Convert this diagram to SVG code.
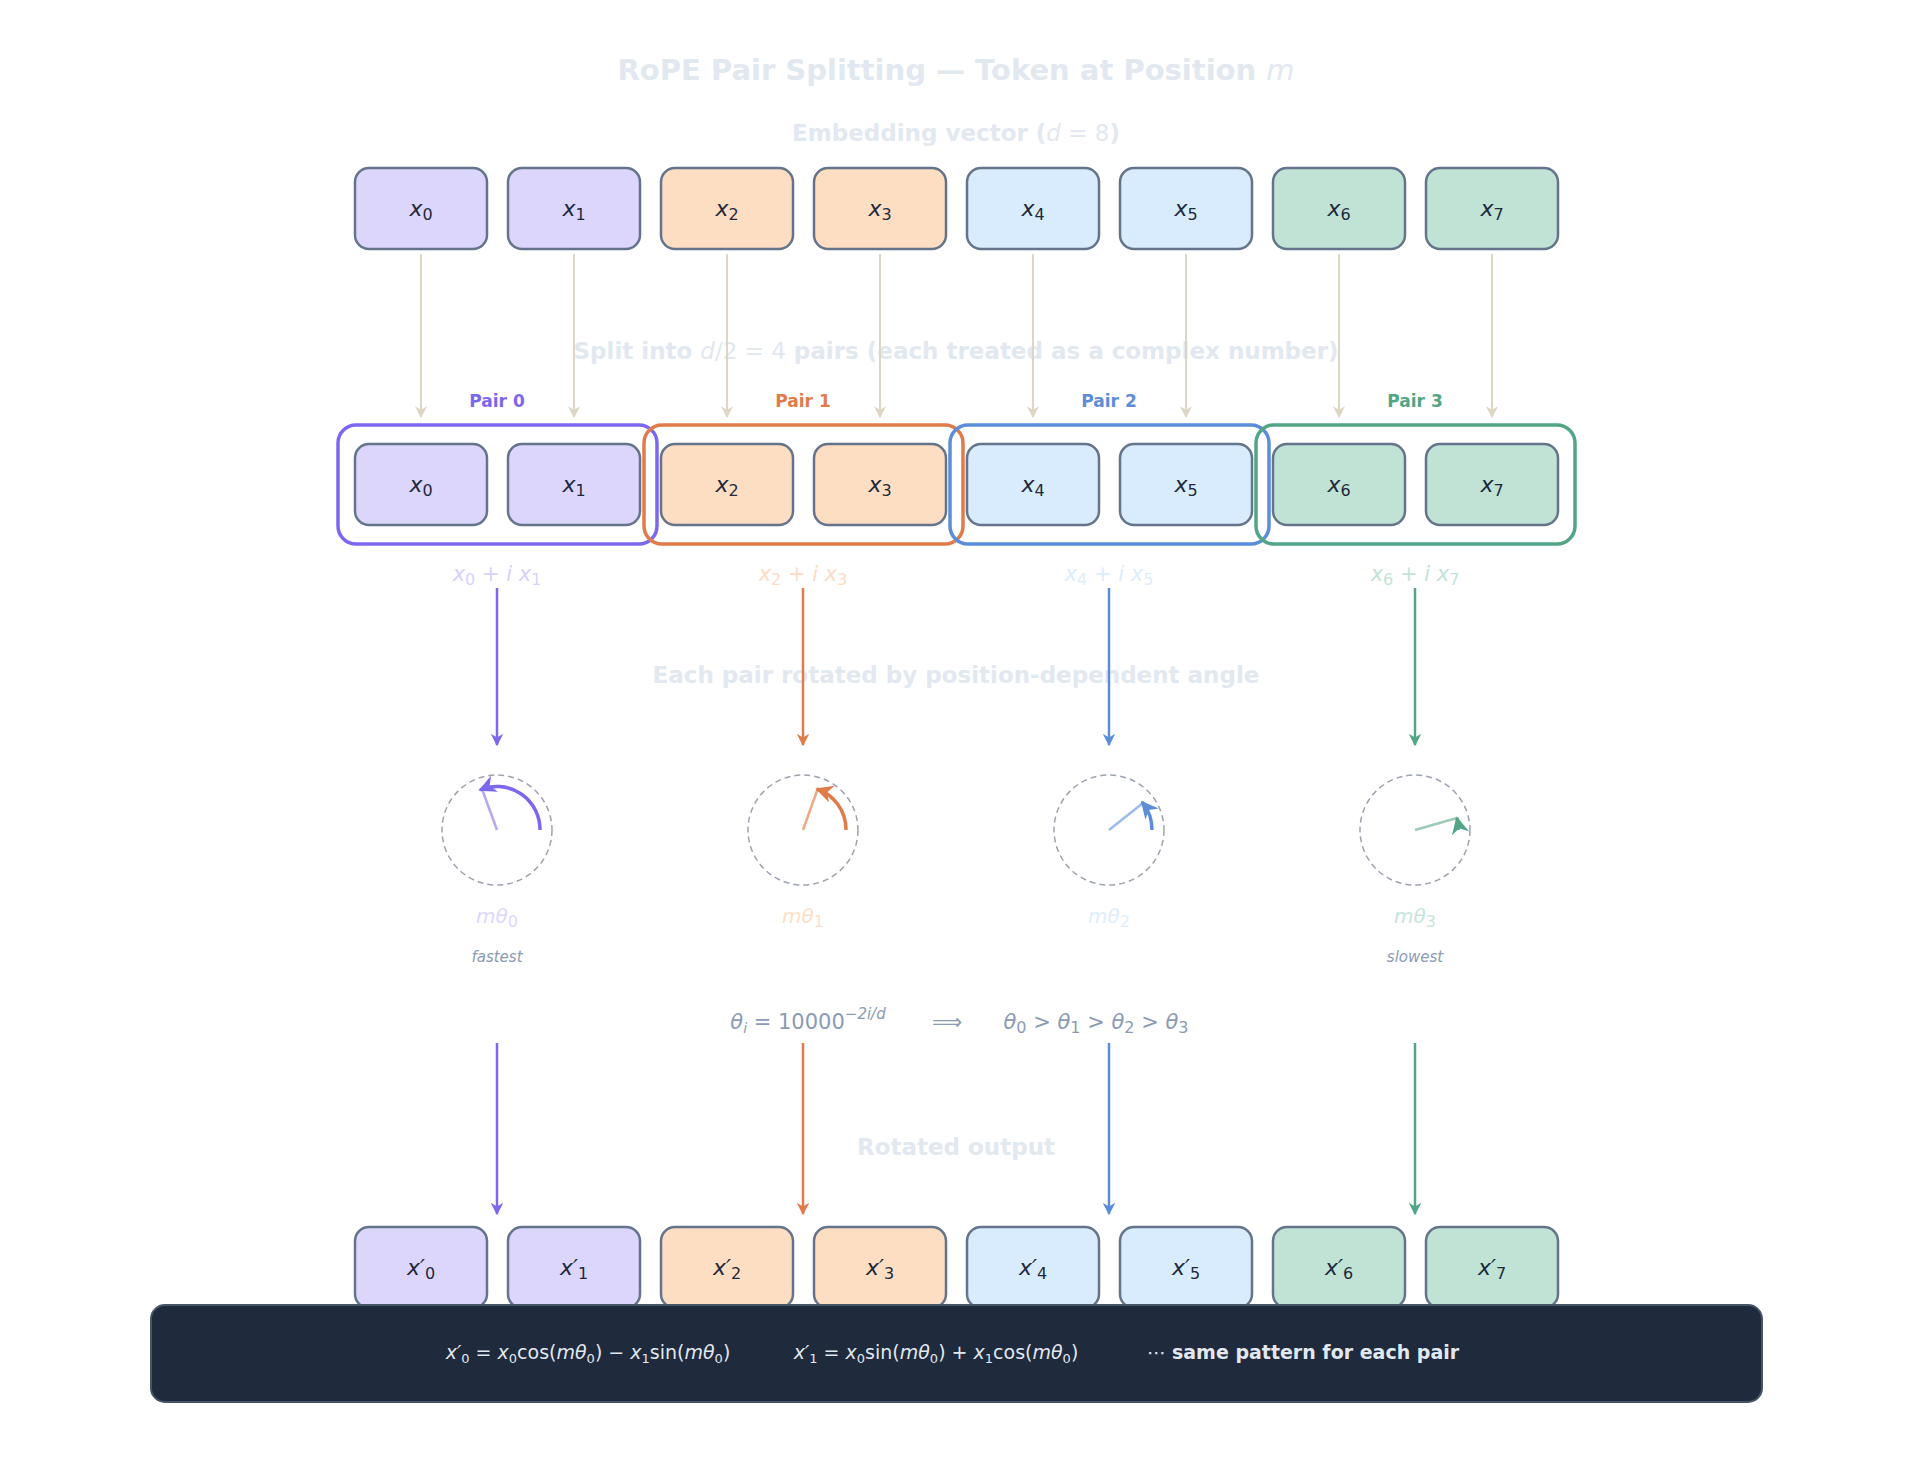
<svg xmlns="http://www.w3.org/2000/svg" width="1913" height="1476" viewBox="0 0 1913 1476">
<style>
text{font-family:"DejaVu Sans",sans-serif;text-anchor:middle}
.h{font-weight:bold;fill:#e2e8f0}
.b{stroke:#64748b;stroke-width:2.5}
.v{font-size:22px;fill:#1e293b;font-style:italic}
.s{font-style:normal;font-size:16px}
.p0{fill:#dcd6fd}.p1{fill:#fedec3}.p2{fill:#d9ecfd}.p3{fill:#c0e3d6}
.pl{font-size:17px;font-weight:bold}
.g{fill:#8b9bb4}
</style>
<defs>
<marker id="ag" viewBox="0 0 10 10" refX="9" refY="5" markerWidth="6" markerHeight="6" orient="auto"><path d="M0,0L10,5L0,10L3,5z" fill="#ddd6c4"/></marker>
<marker id="a0" viewBox="0 0 10 10" refX="9" refY="5" markerWidth="5" markerHeight="5" orient="auto"><path d="M0,0L10,5L0,10L3,5z" fill="#7b68ee"/></marker>
<marker id="a1" viewBox="0 0 10 10" refX="9" refY="5" markerWidth="5" markerHeight="5" orient="auto"><path d="M0,0L10,5L0,10L3,5z" fill="#e07b4a"/></marker>
<marker id="a2" viewBox="0 0 10 10" refX="9" refY="5" markerWidth="5" markerHeight="5" orient="auto"><path d="M0,0L10,5L0,10L3,5z" fill="#5b8dd9"/></marker>
<marker id="a3" viewBox="0 0 10 10" refX="9" refY="5" markerWidth="5" markerHeight="5" orient="auto"><path d="M0,0L10,5L0,10L3,5z" fill="#52a585"/></marker>
</defs>
<rect width="1913" height="1476" fill="#fff"/>
<text x="956" y="80" class="h" font-size="29">RoPE Pair Splitting — Token at Position <tspan font-style="italic" font-weight="normal">m</tspan></text>
<text x="956" y="141" class="h" font-size="23">Embedding vector (<tspan font-style="italic" font-weight="normal">d</tspan><tspan font-weight="normal"> = 8</tspan>)</text>
<text x="956" y="359" class="h" font-size="23">Split into <tspan font-style="italic" font-weight="normal">d</tspan><tspan font-weight="normal">/2 = 4</tspan> pairs (each treated as a complex number)</text>
<text x="956" y="683" class="h" font-size="23">Each pair rotated by position-dependent angle</text>
<text x="956" y="1155" class="h" font-size="23">Rotated output</text>

<g id="connectors" fill="none">
<g stroke="#ddd6c4" stroke-width="2" marker-end="url(#ag)">
<path d="M421 254V417"/><path d="M574 254V417"/><path d="M727 254V417"/><path d="M880 254V417"/><path d="M1033 254V417"/><path d="M1186 254V417"/><path d="M1339 254V417"/><path d="M1492 254V417"/>
</g>
<g stroke-width="2.5">
<path d="M497 588V745" stroke="#7b68ee" marker-end="url(#a0)"/><path d="M497 1043V1214" stroke="#7b68ee" marker-end="url(#a0)"/>
<path d="M803 588V745" stroke="#e07b4a" marker-end="url(#a1)"/><path d="M803 1043V1214" stroke="#e07b4a" marker-end="url(#a1)"/>
<path d="M1109 588V745" stroke="#5b8dd9" marker-end="url(#a2)"/><path d="M1109 1043V1214" stroke="#5b8dd9" marker-end="url(#a2)"/>
<path d="M1415 588V745" stroke="#52a585" marker-end="url(#a3)"/><path d="M1415 1043V1214" stroke="#52a585" marker-end="url(#a3)"/>
</g>
</g>

<g id="embedding">
<rect class="b p0" x="355" y="168" width="132" height="81" rx="14"/><text class="v" x="421" y="216">x<tspan class="s" dy="4">0</tspan></text>
<rect class="b p0" x="508" y="168" width="132" height="81" rx="14"/><text class="v" x="574" y="216">x<tspan class="s" dy="4">1</tspan></text>
<rect class="b p1" x="661" y="168" width="132" height="81" rx="14"/><text class="v" x="727" y="216">x<tspan class="s" dy="4">2</tspan></text>
<rect class="b p1" x="814" y="168" width="132" height="81" rx="14"/><text class="v" x="880" y="216">x<tspan class="s" dy="4">3</tspan></text>
<rect class="b p2" x="967" y="168" width="132" height="81" rx="14"/><text class="v" x="1033" y="216">x<tspan class="s" dy="4">4</tspan></text>
<rect class="b p2" x="1120" y="168" width="132" height="81" rx="14"/><text class="v" x="1186" y="216">x<tspan class="s" dy="4">5</tspan></text>
<rect class="b p3" x="1273" y="168" width="132" height="81" rx="14"/><text class="v" x="1339" y="216">x<tspan class="s" dy="4">6</tspan></text>
<rect class="b p3" x="1426" y="168" width="132" height="81" rx="14"/><text class="v" x="1492" y="216">x<tspan class="s" dy="4">7</tspan></text>
</g>

<g id="pairs">
<rect class="b p0" x="355" y="444" width="132" height="81" rx="14"/><text class="v" x="421" y="492">x<tspan class="s" dy="4">0</tspan></text>
<rect class="b p0" x="508" y="444" width="132" height="81" rx="14"/><text class="v" x="574" y="492">x<tspan class="s" dy="4">1</tspan></text>
<rect class="b p1" x="661" y="444" width="132" height="81" rx="14"/><text class="v" x="727" y="492">x<tspan class="s" dy="4">2</tspan></text>
<rect class="b p1" x="814" y="444" width="132" height="81" rx="14"/><text class="v" x="880" y="492">x<tspan class="s" dy="4">3</tspan></text>
<rect class="b p2" x="967" y="444" width="132" height="81" rx="14"/><text class="v" x="1033" y="492">x<tspan class="s" dy="4">4</tspan></text>
<rect class="b p2" x="1120" y="444" width="132" height="81" rx="14"/><text class="v" x="1186" y="492">x<tspan class="s" dy="4">5</tspan></text>
<rect class="b p3" x="1273" y="444" width="132" height="81" rx="14"/><text class="v" x="1339" y="492">x<tspan class="s" dy="4">6</tspan></text>
<rect class="b p3" x="1426" y="444" width="132" height="81" rx="14"/><text class="v" x="1492" y="492">x<tspan class="s" dy="4">7</tspan></text>
<g fill="none" stroke-width="3.5">
<rect x="338" y="425" width="319" height="119" rx="18" stroke="#7b68ee"/>
<rect x="644" y="425" width="319" height="119" rx="18" stroke="#e07b4a"/>
<rect x="950" y="425" width="319" height="119" rx="18" stroke="#5b8dd9"/>
<rect x="1256" y="425" width="319" height="119" rx="18" stroke="#52a585"/>
</g>
<text class="pl" x="497" y="407" fill="#7b68ee">Pair 0</text>
<text class="pl" x="803" y="407" fill="#e07b4a">Pair 1</text>
<text class="pl" x="1109" y="407" fill="#5b8dd9">Pair 2</text>
<text class="pl" x="1415" y="407" fill="#52a585">Pair 3</text>
<g font-size="21" font-style="italic">
<text x="497" y="581" fill="#d9d1fc">x<tspan class="s" dy="4">0</tspan><tspan dy="-4" font-style="normal"> + </tspan>i x<tspan class="s" dy="4">1</tspan></text>
<text x="803" y="581" fill="#fedcc4">x<tspan class="s" dy="4">2</tspan><tspan dy="-4" font-style="normal"> + </tspan>i x<tspan class="s" dy="4">3</tspan></text>
<text x="1109" y="581" fill="#dcedfb">x<tspan class="s" dy="4">4</tspan><tspan dy="-4" font-style="normal"> + </tspan>i x<tspan class="s" dy="4">5</tspan></text>
<text x="1415" y="581" fill="#c3e3d7">x<tspan class="s" dy="4">6</tspan><tspan dy="-4" font-style="normal"> + </tspan>i x<tspan class="s" dy="4">7</tspan></text>
</g>
</g>

<g id="rotations">
<g fill="none" stroke="#9ca3af" stroke-width="1.5" stroke-dasharray="6 4">
<circle cx="497" cy="830" r="55"/><circle cx="803" cy="830" r="55"/><circle cx="1109" cy="830" r="55"/><circle cx="1415" cy="830" r="55"/>
</g>
<path d="M497 830L482 789" stroke="#b2a8f6" stroke-width="2.5"/>
<path d="M540 830A43 43 0 0 0 480 790" fill="none" stroke="#7b68ee" stroke-width="3.5" marker-end="url(#a0)"/>
<path d="M803 830L818 788" stroke="#eeaa88" stroke-width="2.5"/>
<path d="M846 830A43 43 0 0 0 817 789" fill="none" stroke="#e07b4a" stroke-width="3.5" marker-end="url(#a1)"/>
<path d="M1109 830L1143 803" stroke="#9dbbea" stroke-width="2.5"/>
<path d="M1152 830A43 43 0 0 0 1142 802" fill="none" stroke="#5b8dd9" stroke-width="3.5" marker-end="url(#a2)"/>
<path d="M1415 830L1457 818" stroke="#9dcbb8" stroke-width="2.5"/>
<path d="M1458 830A43 43 0 0 0 1457 818" fill="none" stroke="#52a585" stroke-width="3.5" marker-end="url(#a3)"/>
<g font-size="20" font-style="italic">
<text x="497" y="923" fill="#ddd7fd">mθ<tspan class="s" dy="4">0</tspan></text>
<text x="803" y="923" fill="#fedfc6">mθ<tspan class="s" dy="4">1</tspan></text>
<text x="1109" y="923" fill="#ddeefc">mθ<tspan class="s" dy="4">2</tspan></text>
<text x="1415" y="923" fill="#c6e6da">mθ<tspan class="s" dy="4">3</tspan></text>
</g>
<text x="497" y="962" font-size="15" font-style="italic" class="g">fastest</text>
<text x="1415" y="962" font-size="15" font-style="italic" class="g">slowest</text>
<text x="808" y="1029" font-size="21" class="g"><tspan font-style="italic">θ</tspan><tspan font-style="italic" font-size="14" dy="4">i</tspan><tspan dy="-4"> = 10000</tspan><tspan font-size="15" font-style="italic" dy="-10">−2i/d</tspan></text>
<text x="947" y="1029" font-size="21" class="g">⟹</text>
<text x="1096" y="1029" font-size="21" class="g" font-style="italic">θ<tspan class="s" dy="4">0</tspan><tspan dy="-4" font-style="normal"> &gt; </tspan>θ<tspan class="s" dy="4">1</tspan><tspan dy="-4" font-style="normal"> &gt; </tspan>θ<tspan class="s" dy="4">2</tspan><tspan dy="-4" font-style="normal"> &gt; </tspan>θ<tspan class="s" dy="4">3</tspan></text>
</g>

<g id="output">
<rect class="b p0" x="355" y="1227" width="132" height="81" rx="14"/><text class="v" x="421" y="1275">x′<tspan class="s" dy="4">0</tspan></text>
<rect class="b p0" x="508" y="1227" width="132" height="81" rx="14"/><text class="v" x="574" y="1275">x′<tspan class="s" dy="4">1</tspan></text>
<rect class="b p1" x="661" y="1227" width="132" height="81" rx="14"/><text class="v" x="727" y="1275">x′<tspan class="s" dy="4">2</tspan></text>
<rect class="b p1" x="814" y="1227" width="132" height="81" rx="14"/><text class="v" x="880" y="1275">x′<tspan class="s" dy="4">3</tspan></text>
<rect class="b p2" x="967" y="1227" width="132" height="81" rx="14"/><text class="v" x="1033" y="1275">x′<tspan class="s" dy="4">4</tspan></text>
<rect class="b p2" x="1120" y="1227" width="132" height="81" rx="14"/><text class="v" x="1186" y="1275">x′<tspan class="s" dy="4">5</tspan></text>
<rect class="b p3" x="1273" y="1227" width="132" height="81" rx="14"/><text class="v" x="1339" y="1275">x′<tspan class="s" dy="4">6</tspan></text>
<rect class="b p3" x="1426" y="1227" width="132" height="81" rx="14"/><text class="v" x="1492" y="1275">x′<tspan class="s" dy="4">7</tspan></text>
</g>

<g id="formula">
<rect x="151" y="1305" width="1611" height="97" rx="14" fill="#1f2a3c" stroke="#475569" stroke-width="2"/>
<g font-size="19" fill="#e2e8f0">
<text x="588" y="1359"><tspan font-style="italic">x′</tspan><tspan font-size="13" dy="4">0</tspan><tspan dy="-4"> = </tspan><tspan font-style="italic">x</tspan><tspan font-size="13" dy="4">0</tspan><tspan dy="-4">cos(</tspan><tspan font-style="italic">mθ</tspan><tspan font-size="13" dy="4">0</tspan><tspan dy="-4">) − </tspan><tspan font-style="italic">x</tspan><tspan font-size="13" dy="4">1</tspan><tspan dy="-4">sin(</tspan><tspan font-style="italic">mθ</tspan><tspan font-size="13" dy="4">0</tspan><tspan dy="-4">)</tspan></text>
<text x="936" y="1359"><tspan font-style="italic">x′</tspan><tspan font-size="13" dy="4">1</tspan><tspan dy="-4"> = </tspan><tspan font-style="italic">x</tspan><tspan font-size="13" dy="4">0</tspan><tspan dy="-4">sin(</tspan><tspan font-style="italic">mθ</tspan><tspan font-size="13" dy="4">0</tspan><tspan dy="-4">) + </tspan><tspan font-style="italic">x</tspan><tspan font-size="13" dy="4">1</tspan><tspan dy="-4">cos(</tspan><tspan font-style="italic">mθ</tspan><tspan font-size="13" dy="4">0</tspan><tspan dy="-4">)</tspan></text>
<text x="1303" y="1359">⋯ <tspan font-weight="bold">same pattern for each pair</tspan></text>
</g>
</g>
</svg>
